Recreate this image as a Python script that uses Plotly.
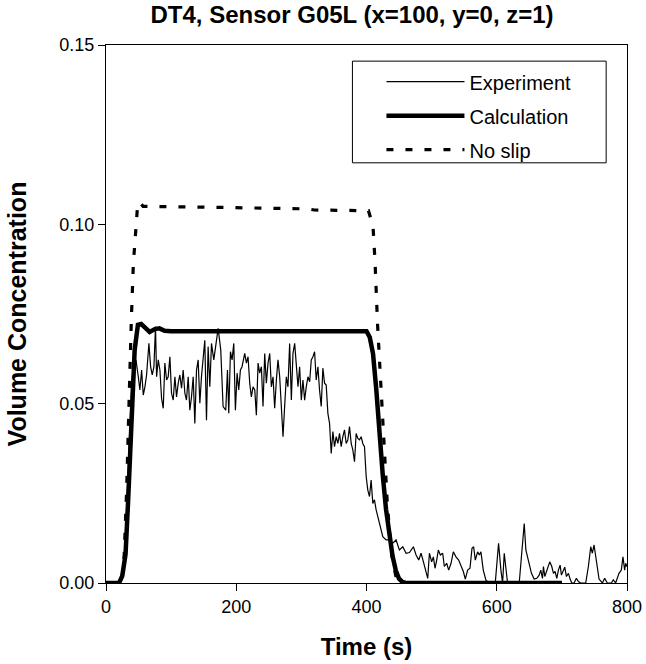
import plotly.graph_objects as go

# ---------------- data ----------------
exp_t = [0, 20, 25, 28, 31, 34, 37, 39.5, 42, 46, 49.6, 52, 54.7, 57.2, 59.8, 62.3, 65.9, 68.5, 71, 73.6,
         76, 77.7, 80.2, 82.8, 85.3, 87.9, 90.4, 93, 95.5, 98.1, 100.6, 103.2, 105.8, 108.3, 110.9, 113.4,
         116, 118.5, 121.1, 123.6, 126.2, 128.7, 131.3, 133.9, 136.4, 139, 141.5, 144.1, 146.6, 149.2,
         151.7, 154.3, 156.8, 159.4, 162, 165.5, 169.6, 172.2, 176.2, 179.8, 183.9, 186.5, 188.5, 191.1,
         193.6, 196.2, 198.7, 201.3, 203.8, 206.4, 208.9, 213, 215.6, 218.1, 220.7, 223.2, 225.8, 228.4,
         230.9, 233.5, 236, 238.6, 241.1, 243.7, 246.2, 248.8, 251.4, 253.9, 256.5, 259, 261.6, 264.1,
         266.7, 269.2, 271.8, 274.3, 276.9, 279.4, 282, 284.6, 287.1, 289.7, 292.2, 294.8, 297.3, 299.9,
         302.4, 305, 307.5, 310.1, 312.7, 315.2, 317.8, 320.3, 322.8, 325.4, 327.9, 330.5, 333, 335.6,
         338.1, 340.7, 343.3, 345.8, 348.4, 350.9, 353.5, 356, 358.6, 361.1, 363.7, 366.2, 368.8, 371.4,
         373.9, 376.5, 379, 381.6, 384.1, 386.7, 389.2, 391.8, 394.3, 396.9, 399.5, 402, 404.6, 407.1,
         409.7, 412.2, 414.8, 417.3, 419.9, 422.4, 425, 430.1, 435.2, 440.3, 445.4, 450.5, 455.7, 460.8,
         466, 472, 476.1, 480.2, 483.8, 487.4, 490.4, 494, 496.6, 500.1, 502.7, 505.2, 507.8, 510.3,
         513.4, 517, 519.5, 523.1, 526.2, 529.8, 533.3, 537.4, 541.5, 545.1, 548.7, 551.7, 555.3, 558.9,
         562, 564.5, 567.1, 570.6, 573.2, 575.7, 579.3, 583.4, 588.5, 597.7, 602.8, 606.4, 609, 611.5,
         614.1, 616.6, 634.5, 637.1, 642.2, 644.7, 647.2, 649.8, 653.3, 657.4, 661.5, 665.1, 667.6, 670.2,
         671.7, 673.8, 676.3, 678.9, 681.4, 684.5, 687.1, 689.6, 692.2, 694.7, 697.3, 699.3, 701.9, 704.4,
         707, 710.1, 712.6, 715.2, 718.7, 722.3, 725.4, 728.9, 736.6, 740.7, 744.3, 746.8, 749.4, 752,
         754.5, 757.1, 762.2, 765.7, 769.8, 776, 779, 782.6, 787.7, 791.3, 793.8, 796.4, 798, 800]
exp_c = [0, 0, 0.001, 0.006, 0.018, 0.032, 0.046, 0.056, 0.0603, 0.0622, 0.0575, 0.0538, 0.0594, 0.0524,
         0.0547, 0.0580, 0.0668, 0.0603, 0.0580, 0.0603, 0.0715, 0.0575, 0.0622, 0.0594, 0.0515, 0.0487,
         0.0613, 0.0566, 0.0575, 0.0631, 0.0529, 0.0510, 0.0575, 0.0519, 0.0557, 0.0580, 0.0543, 0.0594,
         0.0529, 0.0510, 0.0575, 0.0482, 0.0519, 0.0575, 0.0445, 0.0594, 0.0622, 0.0501, 0.0575, 0.0640,
         0.0677, 0.0454, 0.0659, 0.0547, 0.0668, 0.0622, 0.0677, 0.0710, 0.0650, 0.0492, 0.0482, 0.0594,
         0.0473, 0.0645, 0.0622, 0.0668, 0.0482, 0.0585, 0.0538, 0.0594, 0.0603, 0.0640, 0.0613, 0.0631,
         0.0557, 0.0519, 0.0547, 0.0538, 0.0468, 0.0613, 0.0585, 0.0603, 0.0492, 0.0640, 0.0557, 0.0613,
         0.0640, 0.0547, 0.0575, 0.0487, 0.0566, 0.0622, 0.0575, 0.0482, 0.0408, 0.0492, 0.0575, 0.0547,
         0.0668, 0.0510, 0.0640, 0.0668, 0.0594, 0.0547, 0.0603, 0.0510, 0.0566, 0.0510, 0.0547, 0.0575,
         0.0561, 0.0622, 0.0631, 0.0645, 0.0566, 0.0603, 0.0538, 0.0492, 0.0599, 0.0557, 0.0552, 0.0473,
         0.0445, 0.0361, 0.0422, 0.0380, 0.0408, 0.0389, 0.0417, 0.0380, 0.0408, 0.0427, 0.0389, 0.0399,
         0.0436, 0.0389, 0.0371, 0.0338, 0.0417, 0.0403, 0.0399, 0.0408, 0.0389, 0.0380, 0.0297, 0.0259,
         0.0241, 0.0287, 0.0222, 0.0232, 0.0204, 0.0185, 0.0167, 0.0148, 0.0129, 0.0120, 0.0120, 0.0111,
         0.0120, 0.0092, 0.0101, 0.0083, 0.0085, 0.0101, 0.0078, 0.0064, 0.0083, 0.0059, 0.0036, 0.0013,
         0.0083, 0.0059, 0.0073, 0.0041, 0.0064, 0.0092, 0.0078, 0.0083, 0.0046, 0.0055, 0.0036, 0.0055,
         0.0087, 0.0073, 0.0064, 0.0050, 0.0032, 0.0011, 0.0036, 0.0041, 0.0097, 0.0101, 0.0064, 0.0087,
         0.0078, 0.0087, 0.0036, 0.0008, 0, 0, 0.0111, 0.0036, 0, 0.0083, 0.0036, 0, 0, 0.0064, 0.0166,
         0.0092, 0.0073, 0.0046, 0.0027, 0.0011, 0.0013, 0.0022, 0.0036, 0.0013, 0.0046, 0.0018, 0.0032,
         0.0046, 0.0059, 0.0046, 0.0027, 0.0032, 0.0013, 0.0036, 0.0050, 0.0022, 0.0036, 0.0044, 0.0018,
         0.0027, 0.0011, 0, 0, 0.0013, 0.0004, 0, 0, 0.0046, 0.0101, 0.0083, 0.0106, 0.0073, 0.0046,
         0.0011, 0, 0.0013, 0, 0, 0.0009, 0, 0.0027, 0.0036, 0.0073, 0.0036, 0.0055, 0.0045]

calc_t = [0, 20, 25, 30, 34, 39, 44, 49, 54, 60, 67, 75, 82, 90, 100, 200, 300, 400, 405, 410, 415, 420,
          425, 430, 435, 440, 445, 450, 455, 460, 700]
calc_c = [0, 0, 0.002, 0.008, 0.023, 0.048, 0.065, 0.072, 0.0722, 0.0712, 0.0700, 0.0708, 0.0710, 0.0703,
          0.0702, 0.0702, 0.0702, 0.0702, 0.0685, 0.0640, 0.0540, 0.0410, 0.0300, 0.0205, 0.0130, 0.0075,
          0.0035, 0.0012, 0.0003, 0, 0]

noslip_t = [0, 20, 25, 28, 31.7, 34, 36.8, 39, 42, 46, 48, 51, 57, 150, 250, 310, 320, 390, 403, 410, 413,
            417, 422, 427, 432, 436, 440, 445, 450, 455, 700]
noslip_c = [0, 0, 0.002, 0.008, 0.026, 0.044, 0.062, 0.074, 0.089, 0.098, 0.104, 0.1063, 0.1050, 0.1048,
            0.1045, 0.1043, 0.1040, 0.1039, 0.1038, 0.0995, 0.0900, 0.0720, 0.0550, 0.0370, 0.0220, 0.0130,
            0.0065, 0.0020, 0.0003, 0, 0]

x_ticks = [0, 200, 400, 600, 800]
y_ticks = [0.00, 0.05, 0.10, 0.15]

FONT = "Arial, Liberation Sans, sans-serif"

fig = go.Figure()
fig.add_trace(go.Scatter(x=calc_t, y=calc_c, mode="lines", name="Calculation", legendgroup="b",
                         line=dict(color="black", width=4.5), legendrank=2))
fig.add_trace(go.Scatter(x=noslip_t, y=noslip_c, mode="lines", name="No slip", legendgroup="c",
                         line=dict(color="black", width=3.2, dash="7px,12px"), legendrank=3))
fig.add_trace(go.Scatter(x=exp_t, y=exp_c, mode="lines", name="Experiment", legendgroup="a",
                         line=dict(color="black", width=1.2), legendrank=1))

fig.update_layout(
    width=646, height=664,
    margin=dict(l=106, r=19, t=45, b=81, autoexpand=False),
    paper_bgcolor="white", plot_bgcolor="white",
    font=dict(family=FONT, color="black", size=18),
    title=dict(text="<b>DT4, Sensor G05L (x=100, y=0, z=1)</b>", x=0.545, xanchor="center",
               y=1 - 15 / 664, yanchor="middle", yref="container", font=dict(size=24, family=FONT)),
    showlegend=True,
    legend=dict(x=0.5287, y=0.968, xanchor="left", yanchor="top", borderwidth=0,
                bgcolor="rgba(0,0,0,0)", font=dict(size=20, family=FONT), itemwidth=78,
                tracegroupgap=5, traceorder="grouped"),
    shapes=[dict(type="rect", xref="paper", yref="paper", x0=0.473, x1=0.960, y0=0.781, y1=0.970,
                 line=dict(color="black", width=1), fillcolor="rgba(0,0,0,0)", layer="above")],
    xaxis=dict(range=[0, 800], tickvals=x_ticks, ticks="outside", ticklen=7, tickwidth=1,
               tickcolor="black", showline=True, linecolor="black", linewidth=1, mirror=True,
               showgrid=False, zeroline=False, tickfont=dict(size=18), automargin=False,
               title=dict(text="<b>Time (s)</b>", font=dict(size=24), standoff=22)),
    yaxis=dict(range=[0, 0.15], tickvals=y_ticks, tickformat=".2f", ticks="outside", ticklen=7,
               tickwidth=1, tickcolor="black", showline=True, linecolor="black", linewidth=1,
               mirror=True, showgrid=False, zeroline=False, tickfont=dict(size=18), automargin=False,
               title=dict(text="<b>Volume Concentration</b>", font=dict(size=25), standoff=25)),
)

fig.write_html("out.html", config={"displayModeBar": False},
               post_script="document.body.style.margin='0px';document.body.style.overflow='hidden';")
